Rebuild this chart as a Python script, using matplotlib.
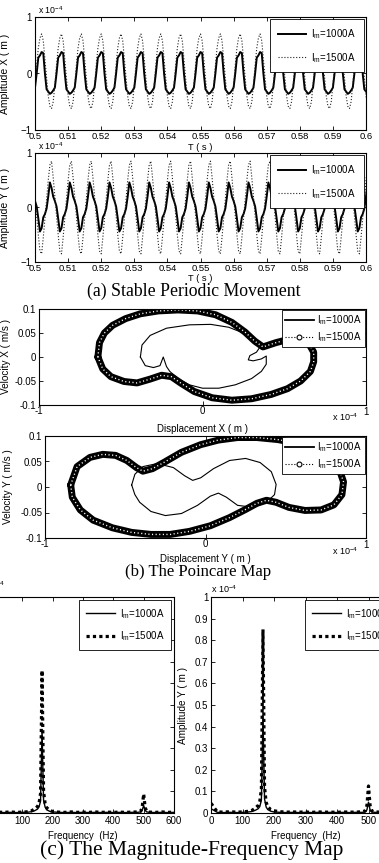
import numpy as np
import matplotlib
matplotlib.use('Agg')
import matplotlib.pyplot as plt
from matplotlib.lines import Line2D

# ---------------- data ----------------
# time series: one period (12 samples, 0.5 ms step), phase 0 = 1500A peak
x1000_period = [0.38, 0.36, 0.00, -0.28, -0.32, -0.36, -0.34, -0.30, -0.25, 0.00, 0.28, 0.32]
x1500_period = [0.70, 0.58, 0.25, -0.10, -0.40, -0.58, -0.62, -0.50, -0.20, 0.15, 0.45, 0.63]
y1000_period = [0.36, 0.20, 0.12, 0.02, -0.20, -0.44, -0.38, -0.18, -0.12, -0.02, 0.20, 0.46]
y1500_period = [0.85, 0.55, 0.20, -0.15, -0.50, -0.80, -0.85, -0.55, -0.20, 0.15, 0.50, 0.78]
t_peak_x = 0.5020
t_peak_y = 0.5050
t_step = 0.0005
n_periods = 18
time_ticks = [0.5, 0.51, 0.52, 0.53, 0.54, 0.55, 0.56, 0.57, 0.58, 0.59, 0.6]
time_ticklabels = ['0.5', '0.51', '0.52', '0.53', '0.54', '0.55', '0.56', '0.57', '0.58', '0.59', '0.6']

# phase portraits (displacement in 1e-4 m, velocity in m/s)
dispX_1000 = [-0.38, -0.37, -0.32, -0.22, -0.08, 0.05, 0.16, 0.25, 0.31, 0.35, 0.33, 0.29, 0.28, 0.31,
              0.36, 0.39, 0.39, 0.36, 0.30, 0.20, 0.10, 0.00, -0.08, -0.15, -0.20, -0.22, -0.24, -0.26,
              -0.30, -0.35, -0.38]
velX_1000 = [0.000, 0.025, 0.045, 0.060, 0.067, 0.068, 0.062, 0.050, 0.035, 0.020, 0.010, 0.003, -0.006,
             -0.008, -0.004, 0.002, -0.015, -0.030, -0.045, -0.058, -0.065, -0.065, -0.058, -0.045,
             -0.030, -0.020, 0.000, -0.018, -0.022, -0.018, 0.000]
dispX_1500 = [-0.64, -0.63, -0.60, -0.55, -0.47, -0.38, -0.27, -0.15, -0.03, 0.08, 0.18, 0.26, 0.32, 0.37,
              0.45, 0.53, 0.60, 0.65, 0.68, 0.68, 0.66, 0.60, 0.52, 0.42, 0.30, 0.18, 0.06, -0.05, -0.13,
              -0.19, -0.25, -0.32, -0.40, -0.48, -0.56, -0.61, -0.64]
velX_1500 = [0.000, 0.030, 0.050, 0.066, 0.080, 0.090, 0.096, 0.098, 0.096, 0.088, 0.072, 0.052, 0.033,
             0.021, 0.030, 0.037, 0.038, 0.028, 0.010, -0.010, -0.030, -0.050, -0.066, -0.078, -0.087,
             -0.090, -0.085, -0.072, -0.055, -0.041, -0.038, -0.046, -0.054, -0.051, -0.041, -0.025, 0.000]
dispY_1000 = [-0.46, -0.44, -0.39, -0.30, -0.20, -0.13, -0.08, -0.03, 0.05, 0.15, 0.25, 0.34, 0.41, 0.44,
              0.43, 0.38, 0.30, 0.20, 0.13, 0.08, 0.03, -0.05, -0.15, -0.25, -0.34, -0.41, -0.44, -0.46]
velY_1000 = [0.004, 0.025, 0.040, 0.046, 0.038, 0.022, 0.013, 0.018, 0.036, 0.052, 0.056, 0.048, 0.030,
             0.005, -0.015, -0.030, -0.040, -0.036, -0.020, -0.012, -0.018, -0.036, -0.052, -0.056,
             -0.048, -0.030, -0.015, 0.004]
dispY_1500 = [-0.84, -0.80, -0.72, -0.64, -0.56, -0.49, -0.43, -0.39, -0.33, -0.26, -0.15, -0.03, 0.08,
              0.20, 0.32, 0.45, 0.57, 0.68, 0.77, 0.83, 0.86, 0.85, 0.80, 0.72, 0.62, 0.52, 0.44, 0.38,
              0.32, 0.25, 0.15, 0.03, -0.10, -0.22, -0.34, -0.46, -0.58, -0.70, -0.78, -0.83, -0.84]
velY_1500 = [0.004, 0.040, 0.058, 0.064, 0.062, 0.052, 0.038, 0.031, 0.036, 0.048, 0.068, 0.083, 0.092,
             0.097, 0.097, 0.093, 0.086, 0.074, 0.058, 0.038, 0.010, -0.015, -0.035, -0.045, -0.046,
             -0.040, -0.030, -0.026, -0.032, -0.044, -0.060, -0.076, -0.087, -0.093, -0.093, -0.089,
             -0.080, -0.065, -0.045, -0.020, 0.004]

# spectra (amplitude in 1e-4 m)
freq = [0, 20, 40, 60, 80, 100, 120, 130, 140, 150, 155, 160, 165, 170, 175, 180, 190, 200, 220, 240,
        260, 280, 300, 320, 340, 360, 380, 400, 420, 440, 460, 480, 490, 495, 500, 505, 510, 520, 540,
        560, 580, 600]
ampX_1000 = [0.006, 0.002, 0.002, 0.003, 0.002, 0.003, 0.004, 0.006, 0.010, 0.018, 0.028, 0.055, 0.380,
             0.060, 0.028, 0.015, 0.008, 0.005, 0.003, 0.002, 0.003, 0.002, 0.003, 0.002, 0.003, 0.002,
             0.003, 0.002, 0.003, 0.002, 0.003, 0.003, 0.005, 0.012, 0.035, 0.012, 0.005, 0.003, 0.002,
             0.003, 0.002, 0.003]
ampX_1500 = [0.010, 0.004, 0.003, 0.005, 0.003, 0.004, 0.006, 0.010, 0.018, 0.030, 0.045, 0.090, 0.660,
             0.100, 0.045, 0.025, 0.012, 0.007, 0.004, 0.003, 0.005, 0.003, 0.004, 0.003, 0.005, 0.003,
             0.004, 0.003, 0.004, 0.003, 0.004, 0.005, 0.008, 0.025, 0.088, 0.025, 0.008, 0.004, 0.003,
             0.005, 0.003, 0.004]
ampY_1000 = [0.020, 0.003, 0.002, 0.003, 0.002, 0.003, 0.005, 0.007, 0.012, 0.020, 0.030, 0.060, 0.450,
             0.065, 0.028, 0.016, 0.008, 0.005, 0.003, 0.002, 0.003, 0.002, 0.003, 0.002, 0.003, 0.002,
             0.003, 0.002, 0.003, 0.002, 0.003, 0.003, 0.005, 0.015, 0.050, 0.015, 0.005, 0.003, 0.002,
             0.003, 0.002, 0.003]
ampY_1500 = [0.045, 0.005, 0.004, 0.006, 0.004, 0.005, 0.008, 0.012, 0.022, 0.035, 0.055, 0.110, 0.850,
             0.120, 0.050, 0.030, 0.015, 0.010, 0.006, 0.004, 0.005, 0.004, 0.005, 0.003, 0.005, 0.004,
             0.004, 0.003, 0.005, 0.004, 0.004, 0.006, 0.010, 0.035, 0.125, 0.035, 0.010, 0.005, 0.004,
             0.005, 0.003, 0.004]
freq_ticks = [0, 100, 200, 300, 400, 500, 600]
freq_ticklabels_left = ['', '100', '200', '300', '400', '500', '600']
freq_ticklabels_right = ['0', '100', '200', '300', '400', '500', '']
amp_ticks = [0, 0.1, 0.2, 0.3, 0.4, 0.5, 0.6, 0.7, 0.8, 0.9, 1]
amp_ticklabels = ['0', '0.1', '0.2', '0.3', '0.4', '0.5', '0.6', '0.7', '0.8', '0.9', '1']

lab1000 = r'I$_\mathrm{m}$=1000A'
lab1500 = r'I$_\mathrm{m}$=1500A'

# ---------------- figure ----------------
SANS = 'Liberation Sans'
SERIF = 'Liberation Serif'
plt.rcParams['font.family'] = [SANS, 'DejaVu Sans']
plt.rcParams['mathtext.fontset'] = 'custom'
plt.rcParams['mathtext.rm'] = SANS
plt.rcParams['mathtext.it'] = SANS + ':italic'

W, H = 379, 863
fig = plt.figure(figsize=(W / 100, H / 100), dpi=100)


def rect(l, t, r, b):
    return [l / W, 1 - b / H, (r - l) / W, (b - t) / H]


TICK_FS = 7
LAB_FS = 7.5
LEG_FS = 7


def style(ax):
    ax.tick_params(direction='in', top=True, right=True, length=3, width=0.6,
                   labelsize=TICK_FS, pad=2, colors='black')
    for s in ax.spines.values():
        s.set_linewidth(0.8)


# ---- time series ----
def time_axis(ax, period1000, period1500, t_peak, ylabel, tlab_y):
    n = len(period1000) * n_periods
    t = t_peak - len(period1000) * t_step + t_step * np.arange(n)
    ax.plot(t, np.tile(period1000, n_periods), color='k', lw=1.4, label=lab1000)
    ax.plot(t, np.tile(period1500, n_periods), color='#222222', ls=':', lw=0.8, label=lab1500)
    ax.set_xlim(0.5, 0.6)
    ax.set_ylim(-1, 1)
    ax.set_yticks([-1, 0, 1])
    ax.set_xticks(time_ticks)
    ax.set_xticklabels(time_ticklabels)
    style(ax)
    ax.tick_params(axis='x', pad=1.5, labelsize=6.8)
    ax.tick_params(axis='y', pad=2.5)
    ax.set_ylabel(ylabel, fontsize=LAB_FS, labelpad=0)
    ax.yaxis.set_label_coords(-0.075, 0.5)
    ax.set_xlabel('T ( s )', fontsize=LAB_FS - 0.8)
    ax.xaxis.set_label_coords(0.5, tlab_y)
    ax.text(0.01, 1.008, r'x 10$^{-4}$', transform=ax.transAxes, fontsize=6.3, ha='left', va='bottom')
    lg = ax.legend(loc='upper right', fontsize=LEG_FS, fancybox=False, edgecolor='black', framealpha=1,
                   handlelength=2.9, handletextpad=0.5, labelspacing=1.0, borderpad=0.8,
                   borderaxespad=0.25)
    lg.get_frame().set_linewidth(0.6)


ax1 = fig.add_axes(rect(35, 17, 366, 130))
time_axis(ax1, x1000_period, x1500_period, t_peak_x, 'Amplitude X ( m )', -0.112)
ax2 = fig.add_axes(rect(35, 153, 366, 262))
time_axis(ax2, y1000_period, y1500_period, t_peak_y, 'Amplitude Y ( m )', -0.112)

# ---- phase portraits ----
def phase_axis(ax, d1000, v1000, d1500, v1500, xlabel, ylabel, ylab_x, xlab_y):
    ax.plot(d1000, v1000, color='k', lw=0.8)
    ax.plot(d1500, v1500, color='k', lw=5.0, solid_joinstyle='round', solid_capstyle='round')
    ax.plot(d1500, v1500, color='white', lw=1.0, ls=(0, (0.8, 1.8)))
    ax.set_xlim(-1, 1)
    ax.set_ylim(-0.1, 0.1)
    ax.set_xticks([-1, 0, 1])
    ax.set_xticklabels(['-1', '0', ''])
    ax.set_yticks([-0.1, -0.05, 0, 0.05, 0.1])
    ax.set_yticklabels(['-0.1', '-0.05', '0', '0.05', '0.1'])
    style(ax)
    ax.tick_params(axis='x', pad=1)
    ax.text(1.0, -0.02, '1', transform=ax.transAxes, fontsize=TICK_FS, ha='center', va='top')
    ax.text(0.975, -0.07, r'x 10$^{-4}$', transform=ax.transAxes, fontsize=6.5, ha='right', va='top')
    ax.set_xlabel(xlabel, fontsize=LAB_FS - 0.5)
    ax.xaxis.set_label_coords(0.5, xlab_y)
    ax.set_ylabel(ylabel, fontsize=LAB_FS - 0.3)
    ax.yaxis.set_label_coords(ylab_x, 0.5)
    h1 = Line2D([], [], color='k', lw=1.3)
    h2 = Line2D([], [], color='k', ls=':', lw=0.8, marker='o', ms=3.5, mfc='white', mec='k', mew=0.8)
    lg = ax.legend([h1, h2], [lab1000, lab1500], loc='upper right', fontsize=LEG_FS, fancybox=False,
                   edgecolor='black', framealpha=1, handlelength=3.0, handletextpad=0.3,
                   labelspacing=0.3, borderpad=0.3, borderaxespad=0.15, numpoints=1)
    lg.get_frame().set_linewidth(0.6)


ax3 = fig.add_axes(rect(39, 309, 366, 405))
phase_axis(ax3, dispX_1000, velX_1000, dispX_1500, velX_1500,
           'Displacement X ( m )', 'Velocity X ( m/s )', -0.085, -0.2)
ax4 = fig.add_axes(rect(45, 436, 366, 538))
phase_axis(ax4, dispY_1000, velY_1000, dispY_1500, velY_1500,
           'Displacement Y ( m )', 'Velocity Y ( m/s )', -0.1, -0.16)

# ---- spectra ----
def spec_axis(ax, a1000, a1500, xticklabels):
    ax.plot(freq, a1000, color='k', lw=1.0, label=lab1000)
    ax.plot(freq, a1500, color='k', lw=2.3, ls=(0, (1, 1)), label=lab1500)
    ax.set_xlim(0, 600)
    ax.set_ylim(0, 1)
    ax.set_xticks(freq_ticks)
    ax.set_xticklabels(xticklabels)
    ax.set_yticks(amp_ticks)
    ax.set_yticklabels(amp_ticklabels)
    style(ax)
    ax.set_xlabel('Frequency  (Hz)', fontsize=LAB_FS - 0.5)
    ax.xaxis.set_label_coords(0.5, -0.085)
    lg = ax.legend(loc='upper right', fontsize=LEG_FS, fancybox=False, edgecolor='black', framealpha=1,
                   handlelength=3.0, handletextpad=0.5, labelspacing=0.9, borderpad=0.7,
                   borderaxespad=0.3)
    lg.get_frame().set_linewidth(0.6)


ax5 = fig.add_axes(rect(-8, 597, 174, 813))
spec_axis(ax5, ampX_1000, ampX_1500, freq_ticklabels_left)
ax5.tick_params(axis='y', labelleft=False)
fig.text(5 / W, 1 - 591 / H, r'x 10$^{-4}$', fontsize=6.5, ha='right', va='bottom')

ax6 = fig.add_axes(rect(211, 597, 400, 813))
spec_axis(ax6, ampY_1000, ampY_1500, freq_ticklabels_right)
ax6.set_ylabel('Amplitude Y ( m )', fontsize=LAB_FS - 0.3)
ax6.yaxis.set_label_coords(-0.12, 0.5)
ax6.text(0.0, 1.01, r'x 10$^{-4}$', transform=ax6.transAxes, fontsize=6.5, ha='left', va='bottom')

# ---- captions ----
fig.text(194 / W, 1 - 291 / H, '(a) Stable Periodic Movement', ha='center', va='center',
         fontsize=12.8, family=SERIF)
fig.text(198 / W, 1 - 572 / H, '(b) The Poincare Map', ha='center', va='center',
         fontsize=12, family=SERIF)
fig.text(192 / W, 1 - 850 / H, '(c) The Magnitude-Frequency Map', ha='center', va='center',
         fontsize=15.5, family=SERIF)

fig.savefig('out.png', dpi=100)
